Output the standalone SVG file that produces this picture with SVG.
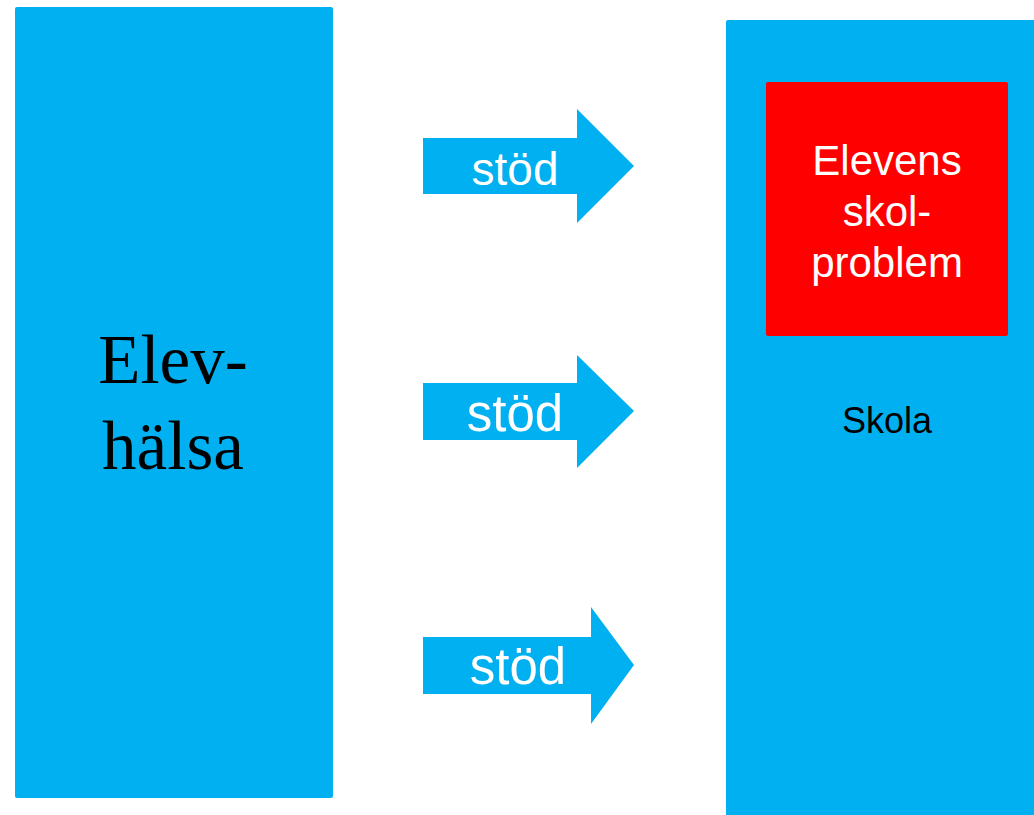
<svg xmlns="http://www.w3.org/2000/svg" width="1034" height="815" viewBox="0 0 1034 815">
<style>
.blue{fill:#00B0F0}
.red{fill:#FF0000}
.stod{font-family:"Liberation Sans",Arial,sans-serif;fill:#FFFFFF;text-anchor:middle}
.sans{font-family:"Liberation Sans",Arial,sans-serif;text-anchor:middle}
.serif{font-family:"Liberation Serif","Times New Roman",serif;text-anchor:middle;fill:#000000}
</style>
<rect width="1034" height="815" fill="#FFFFFF"/>
<g id="elevhalsa">
<rect class="blue" x="15" y="7" width="318" height="791" rx="2"/>
<text class="serif" font-size="69"><tspan x="173" y="383">Elev-</tspan><tspan x="173" y="469">hälsa</tspan></text>
</g>
<g id="skola">
<rect class="blue" x="726" y="20" width="320" height="810" rx="2"/>
<text class="sans" x="887" y="433" font-size="36" fill="#000000">Skola</text>
</g>
<g id="elevens-skolproblem">
<rect class="red" x="766" y="82" width="242" height="254" rx="2"/>
<text class="sans" font-size="42" fill="#FFFFFF"><tspan x="887" y="175">Elevens</tspan><tspan x="887" y="226">skol-</tspan><tspan x="887" y="277">problem</tspan></text>
</g>
<g id="connectors">
<g id="stod1">
<polygon class="blue" points="423,138 577,138 577,109 634,166 577,223 577,194 423,194"/>
<text class="stod" x="515" y="185" font-size="46">stöd</text>
</g>
<g id="stod2">
<polygon class="blue" points="423,383 577,383 577,355 634,411 577,468 577,440 423,440"/>
<text class="stod" x="515" y="431" font-size="51">stöd</text>
</g>
<g id="stod3">
<polygon class="blue" points="423,637 591,637 591,607 634,665 591,724 591,694 423,694"/>
<text class="stod" x="518" y="684" font-size="51">stöd</text>
</g>
</g>
</svg>
